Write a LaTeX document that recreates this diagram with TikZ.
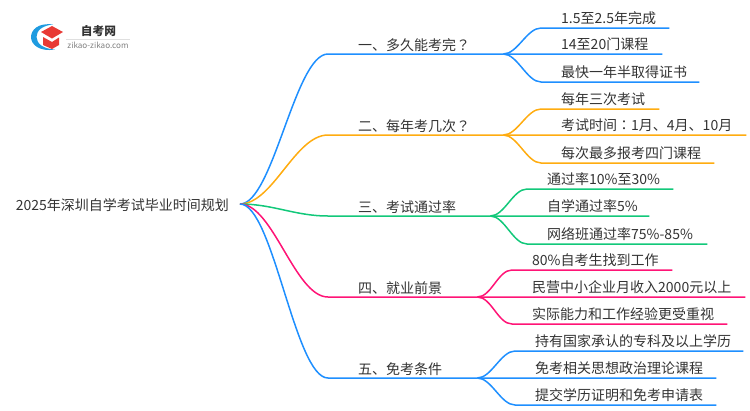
\documentclass[tikz,border=0pt]{standalone}
\usepackage{fontspec}
\setmainfont{Noto Sans CJK SC}
\newfontfamily\tcfont{Noto Sans CJK TC}
\usetikzlibrary{calc}
\definecolor{cblue}{HTML}{1E8FFF}
\definecolor{corange}{HTML}{FFAC10}
\definecolor{cgreen}{HTML}{12C87A}
\definecolor{cpink}{HTML}{FF1476}
\definecolor{ctext}{HTML}{333333}
\definecolor{lblue}{HTML}{1F9BE0}
\definecolor{lred}{HTML}{E83A35}
\newcommand{\qm}{{\tcfont ？}}
\newcommand{\cl}{{\tcfont ：}}
\tikzset{
  lbl/.style={inner sep=0pt,font=\fontsize{14}{16}\selectfont,text=ctext,align=left,text height=11pt,text depth=4pt},
  brn/.style={lbl,text depth=3.5pt},
  rootn/.style={lbl,text height=13pt,text depth=1pt},
  wire/.style={line width=1.5pt},
}
\newcommand{\mainwire}[2]{\draw[wire,#1] (root.east) .. controls ($(root.east)+(33,0)$) and ($(#2.south west)+(-63,0)$) .. ($(#2.south west)+(-30,0)$) -- (#2.south east);}
\newcommand{\leafwire}[3]{\draw[wire,#1] (#2.south east) .. controls ($(#2.south east)+(14,0)$) and ($(#3.south west)+(-34,0)$) .. ($(#3.south west)+(-20,0)$) -- (#3.south east);}
\begin{document}
\begin{tikzpicture}[x=1pt,y=-1pt]
\useasboundingbox (0,0) rectangle (750,410);
% logo
\fill[lblue] (53,24.5) .. controls (38,22.5) and (31,30) .. (31,37) .. controls (31,45) and (40,52) .. (55,49.5) .. controls (44,49) and (36.5,44) .. (36.5,37) .. controls (36.5,30) and (43,25.5) .. (53,24.5) -- cycle;
\fill[lred] (41,32) -- (52,26) -- (63,32) -- (52,38.5) -- cycle;
\fill[lred] (43,37) -- (52,42) -- (59,37.5) -- (59,45) -- (52,49) -- (43,45) -- cycle;
\node[inner sep=0pt,font=\fontsize{11.7}{12}\selectfont\bfseries,text=ctext] (logot) at (98.5,31) {自考网};
\node[inner sep=0pt,font=\fontsize{8.1}{9}\selectfont,text=gray] (logou) at (98,45) {zikao-zikao.com};
\draw[gray!25,line width=0.5pt] (66,39) -- (130,39);
% root
\node[rootn,anchor=east,text width=224pt] (root) at (240,204) {2025年深圳自学考试毕业时间规划};
% branches
\node[brn,anchor=south west,text width=145pt] (b1) at (358,54) {一、多久能考完\qm};
\node[brn,anchor=south west,text width=145pt] (b2) at (358,135) {二、每年考几次\qm};
\node[brn,anchor=south west,text width=132pt] (b3) at (358,216) {三、考试通过率};
\node[brn,anchor=south west,text width=119pt] (b4) at (358,297) {四、就业前景};
\node[brn,anchor=south west,text width=119pt] (b5) at (358,378) {五、免考条件};
% leaves
\node[lbl,anchor=south west,text width=108pt] (l11) at (561,28) {1.5至2.5年完成};
\node[lbl,anchor=south west,text width=101pt] (l12) at (561,54.08) {14至20门课程};
\node[lbl,anchor=south west,text width=138pt] (l13) at (561,82) {最快一年半取得证书};
\node[lbl,anchor=south west,text width=98pt] (l21) at (561,109) {每年三次考试};
\node[lbl,anchor=south west,text width=185pt] (l22) at (561,135.08) {考试时间\cl 1月、4月、10月};
\node[lbl,anchor=south west,text width=153pt] (l23) at (561,163) {每次最多报考四门课程};
\node[lbl,anchor=south west,text width=126pt] (l31) at (547,189) {通过率10\%至30\%};
\node[lbl,anchor=south west,text width=102pt] (l32) at (547,216.08) {自学通过率5\%};
\node[lbl,anchor=south west,text width=160pt] (l33) at (547,244) {网络班通过率75\%-85\%};
\node[lbl,anchor=south west,text width=140pt] (l41) at (532,270) {80\%自考生找到工作};
\node[lbl,anchor=south west,text width=213pt] (l42) at (532,297.08) {民营中小企业月收入2000元以上};
\node[lbl,anchor=south west,text width=195pt] (l43) at (532,324) {实际能力和工作经验更受重视};
\node[lbl,anchor=south west,text width=208pt] (l51) at (535,351) {持有国家承认的专科及以上学历};
\node[lbl,anchor=south west,text width=181pt] (l52) at (535,378.08) {免考相关思想政治理论课程};
\node[lbl,anchor=south west,text width=181pt] (l53) at (535,405) {提交学历证明和免考申请表};
% main connectors
\mainwire{cblue}{b1}
\mainwire{corange}{b2}
\mainwire{cgreen}{b3}
\mainwire{cpink}{b4}
\mainwire{cblue}{b5}
% leaf connectors
\leafwire{cblue}{b1}{l11}
\leafwire{cblue}{b1}{l12}
\leafwire{cblue}{b1}{l13}
\leafwire{corange}{b2}{l21}
\leafwire{corange}{b2}{l22}
\leafwire{corange}{b2}{l23}
\leafwire{cgreen}{b3}{l31}
\leafwire{cgreen}{b3}{l32}
\leafwire{cgreen}{b3}{l33}
\leafwire{cpink}{b4}{l41}
\leafwire{cpink}{b4}{l42}
\leafwire{cpink}{b4}{l43}
\leafwire{cblue}{b5}{l51}
\leafwire{cblue}{b5}{l52}
\leafwire{cblue}{b5}{l53}
\end{tikzpicture}
\end{document}
